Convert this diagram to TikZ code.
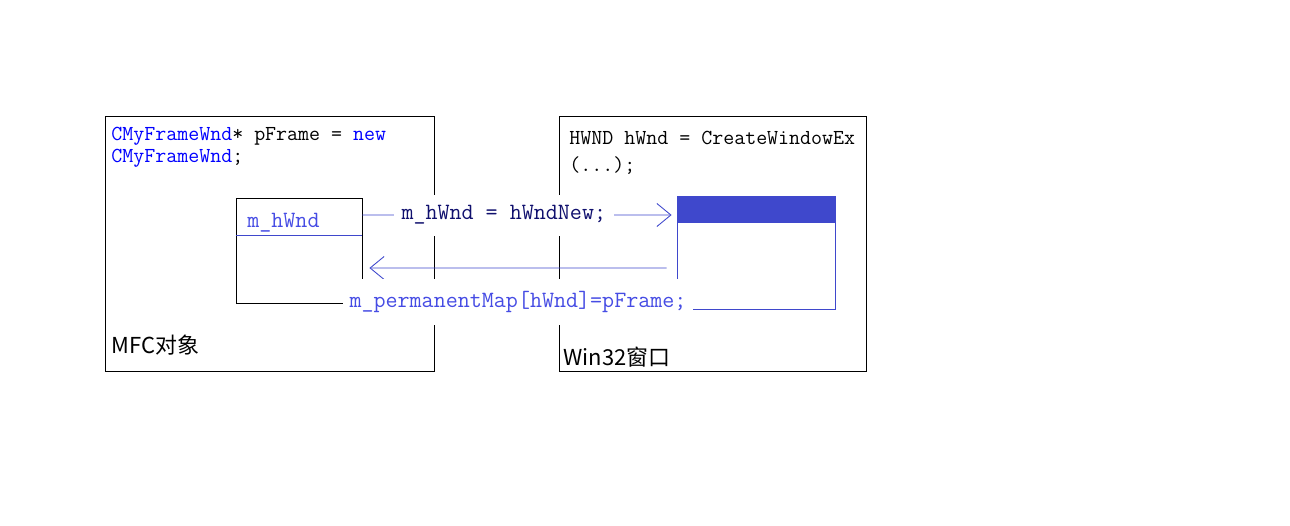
\documentclass[tikz,border=0pt]{standalone}
\usepackage{fontspec}
\newfontfamily\cjk{Noto Sans CJK SC}
\usetikzlibrary{arrows.meta}
\definecolor{codeblue}{RGB}{0,0,255}
\definecolor{codenavy}{RGB}{16,16,110}
\definecolor{linkblue}{RGB}{63,72,204}
\definecolor{mapblue}{RGB}{70,76,228}

\begin{document}
\begin{tikzpicture}[
			x=0.02cm, y=-0.02cm,
			>={Straight Barb[length=2.8mm, width=4.6mm]},
			frame/.style={draw, line width=0.5pt, inner sep=0pt},
			code/.style={font=\ttfamily\fontsize{12.15}{14}\selectfont, inner sep=0pt, anchor=west},
			bigcode/.style={font=\ttfamily\fontsize{13.3}{15}\selectfont},
			caption/.style={font=\cjk\fontsize{12.5}{14}\selectfont, inner sep=0pt, anchor=west},
			link/.style={draw=linkblue, line width=0.5pt}
		]
			\useasboundingbox (0,0) rectangle (1290,526);

			% MFC 对象
			\node[frame, minimum width=6.58cm, minimum height=5.1cm] (mfc) at (269.5,243.5) {};
			\node[code] (newline) at (111,136) {\textcolor{codeblue}{CMyFrameWnd}* pFrame = \textcolor{codeblue}{new}};
			\node[code] (newline2) at (111,158) {\textcolor{codeblue}{CMyFrameWnd};};
			\node[frame, minimum width=2.52cm, minimum height=2.1cm] (obj) at (299,250.5) {};
			\draw[link] ([yshift=-0.76cm]obj.north west) -- ([yshift=-0.76cm]obj.north east);
			\node[code, bigcode, text=mapblue] (field) at (247,223) {m\_hWnd};
			\node[caption] (mfclabel) at (111,345) {MFC对象};

			% Win32 窗口
			\node[frame, minimum width=6.14cm, minimum height=5.1cm] (win) at (712.5,243.5) {};
			\node[code] (create) at (569,138) {HWND hWnd = CreateWindowEx};
			\node[code] (create2) at (569,166) {(...);};
			\node[frame, draw=linkblue, minimum width=3.16cm, minimum height=2.26cm] (wnd) at (756,252.5) {};
			\node[frame, draw=linkblue, fill=linkblue, anchor=north, minimum width=3.16cm, minimum height=0.52cm] (title) at (wnd.north) {};
			\node[caption] (winlabel) at (563,357) {Win32窗口};

			% 两者之间的关联
			\draw[->, link, shorten >=0.1cm] ([yshift=0.71cm]obj.east) --
				node[pos=0.45, bigcode, text=codenavy, fill=white, inner xsep=0.15cm, minimum height=0.82cm] (assign) {m\_hWnd = hWndNew;}
				([yshift=0.75cm]wnd.west);
			\draw[->, link, shorten <=0.2cm, shorten >=0.14cm] ([yshift=-0.31cm]wnd.west) -- ([yshift=-0.35cm]obj.east);
			\node[bigcode, text=mapblue, fill=white, minimum width=7cm, minimum height=0.92cm] (map) at (518,302) {m\_permanentMap[hWnd]=pFrame;};
		\end{tikzpicture}
\end{document}
